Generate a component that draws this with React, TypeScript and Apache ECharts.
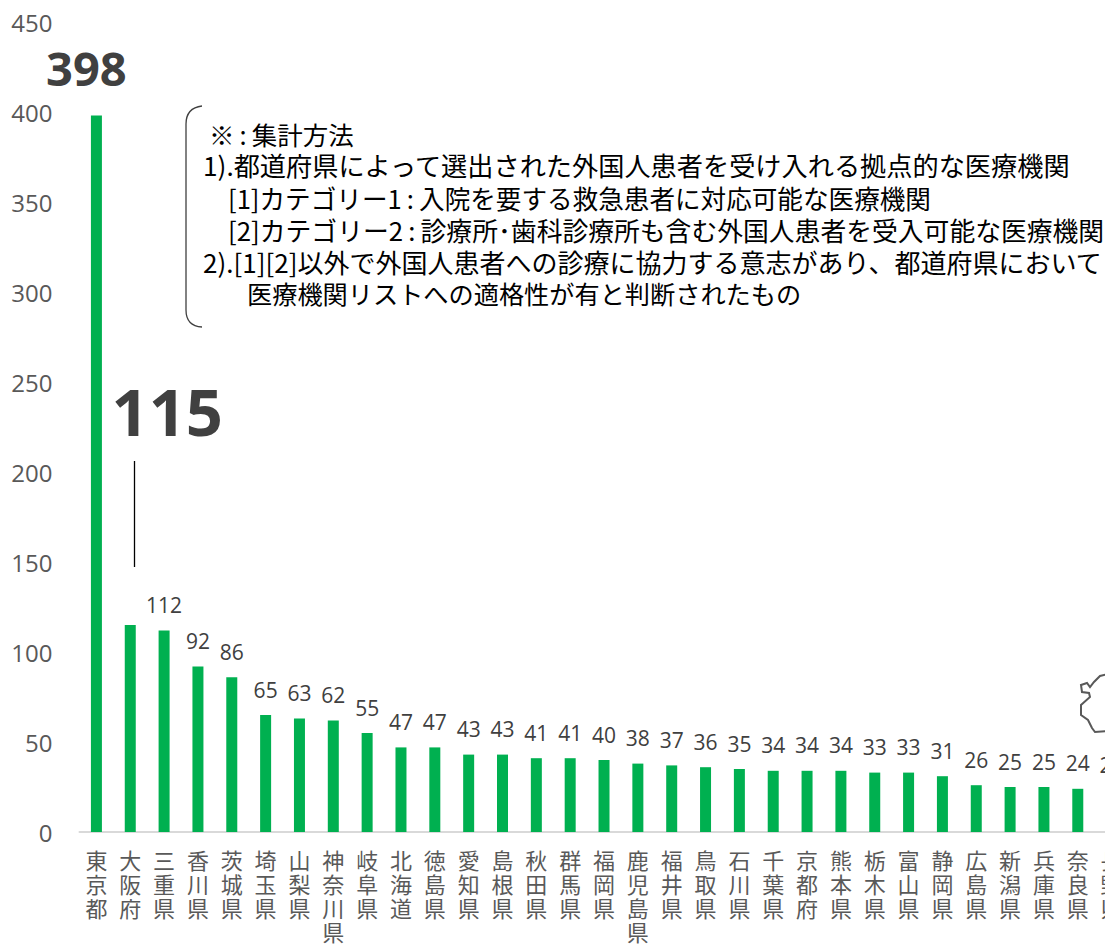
import React, { useEffect, useRef } from "react";
import * as echarts from "echarts";

const categories = ["東京都","大阪府","三重県","香川県","茨城県","埼玉県","山梨県","神奈川県","岐阜県","北海道","徳島県","愛知県","島根県","秋田県","群馬県","福岡県","鹿児島県","福井県","鳥取県","石川県","千葉県","京都府","熊本県","栃木県","富山県","静岡県","広島県","新潟県","兵庫県","奈良県","長野県"];
const values = [398,115,112,92,86,65,63,62,55,47,47,43,43,41,41,40,38,37,36,35,34,34,34,33,33,31,26,25,25,24,23];
const noteLines = [
  "※\u2009:\u2009集計方法",
  "1).都道府県によって選出された外国人患者を受け入れる拠点的な医療機関",
  "[1]カテゴリー1\u2009:\u2009入院を要する救急患者に対応可能な医療機関",
  "[2]カテゴリー2\u2009:\u2009診療所･歯科診療所も含む外国人患者を受入可能な医療機関",
  "2).[1][2]以外で外国人患者への診療に協力する意志があり、都道府県において",
  "医療機関リストへの適格性が有と判断されたもの",
];
const noteY = [133, 165, 197, 229, 261, 293];
const noteX = [209, 203, 228, 228, 203, 247];
const noteSize = [25.5, 26.2, 25.6, 25.8, 26, 25.2];
const FONT = '"Open Sans", "Noto Sans CJK JP", sans-serif';

export default function App() {
  const ref = useRef<HTMLDivElement>(null);
  useEffect(() => {
    document.body.style.margin = "0";
    document.body.style.overflow = "hidden";
    const chart = echarts.init(ref.current!, null, { renderer: "svg" });
    echarts.graphic.registerShape("brace", echarts.graphic.extendPath(
      "M202 106 Q186 108 186 124 L186 310 Q186 326 202 327", {}) as any);
    echarts.graphic.registerShape("pref", echarts.graphic.extendPath(
      "M1108 674 L1100 676 L1094 682 L1090 687 L1087 683 L1081 685 L1082 692 L1089 693 L1090 697 L1081 705 L1081 715 L1088 720 L1092 728 L1095 732 L1108 731", {}) as any);
    chart.setOption({
      animation: false,
      grid: { left: 79.5, top: 22, width: 33.84 * categories.length, height: 810, containLabel: false, outerBoundsMode: "none" },
      xAxis: {
        type: "category",
        data: categories,
        axisLine: { lineStyle: { color: "#d9d9d9", width: 2 } },
        axisTick: { show: false },
        axisLabel: {
          interval: 0,
          margin: 16,
          color: "#595959",
          fontFamily: FONT,
          fontSize: 22,
          lineHeight: 24,
          verticalAlign: "top",
          hideOverlap: false,
          formatter: (v: string) => v.split("").join("\n"),
        },
      },
      yAxis: {
        type: "value",
        min: 0,
        max: 450,
        interval: 50,
        position: "left",
        axisLine: { show: false },
        axisTick: { show: false },
        splitLine: { show: false },
        axisLabel: {
          color: "#595959",
          fontFamily: FONT,
          fontSize: 24,
          margin: 27,
          align: "right",
        },
      },
      series: [{
        type: "bar",
        barWidth: 11,
        itemStyle: { color: "#00b050" },
        label: {
          show: true,
          position: "top",
          distance: 15,
          color: "#404040",
          fontFamily: FONT,
          fontSize: 21,
        },
        data: values.map((v, i) => {
          if (i === 0) return { value: v, label: { fontSize: 47, fontWeight: "bold", offset: [-10, -9] } };
          if (i === 1) return { value: v, label: { fontSize: 65, fontWeight: "bold", offset: [37, -167] } };
          return v;
        }),
      }],
      graphic: [
        { type: "brace", style: { fill: "none", stroke: "#404040", lineWidth: 1.3 } },
        { type: "pref", style: { fill: "none", stroke: "#595959", lineWidth: 2 } },
        { type: "line", shape: { x1: 134.5, y1: 461, x2: 134.5, y2: 567 }, style: { stroke: "#000", lineWidth: 1.3 } },
        ...noteLines.map((t, i) => ({
          type: "text",
          x: noteX[i],
          y: noteY[i],
          style: {
            text: t,
            fill: "#000",
            fontFamily: '"Noto Sans CJK JP", sans-serif',
            fontSize: noteSize[i],
            verticalAlign: "middle",
          },
        })),
      ],
    });
    return () => chart.dispose();
  }, []);
  return <div ref={ref} style={{ width: 1105, height: 944 }} />;
}
